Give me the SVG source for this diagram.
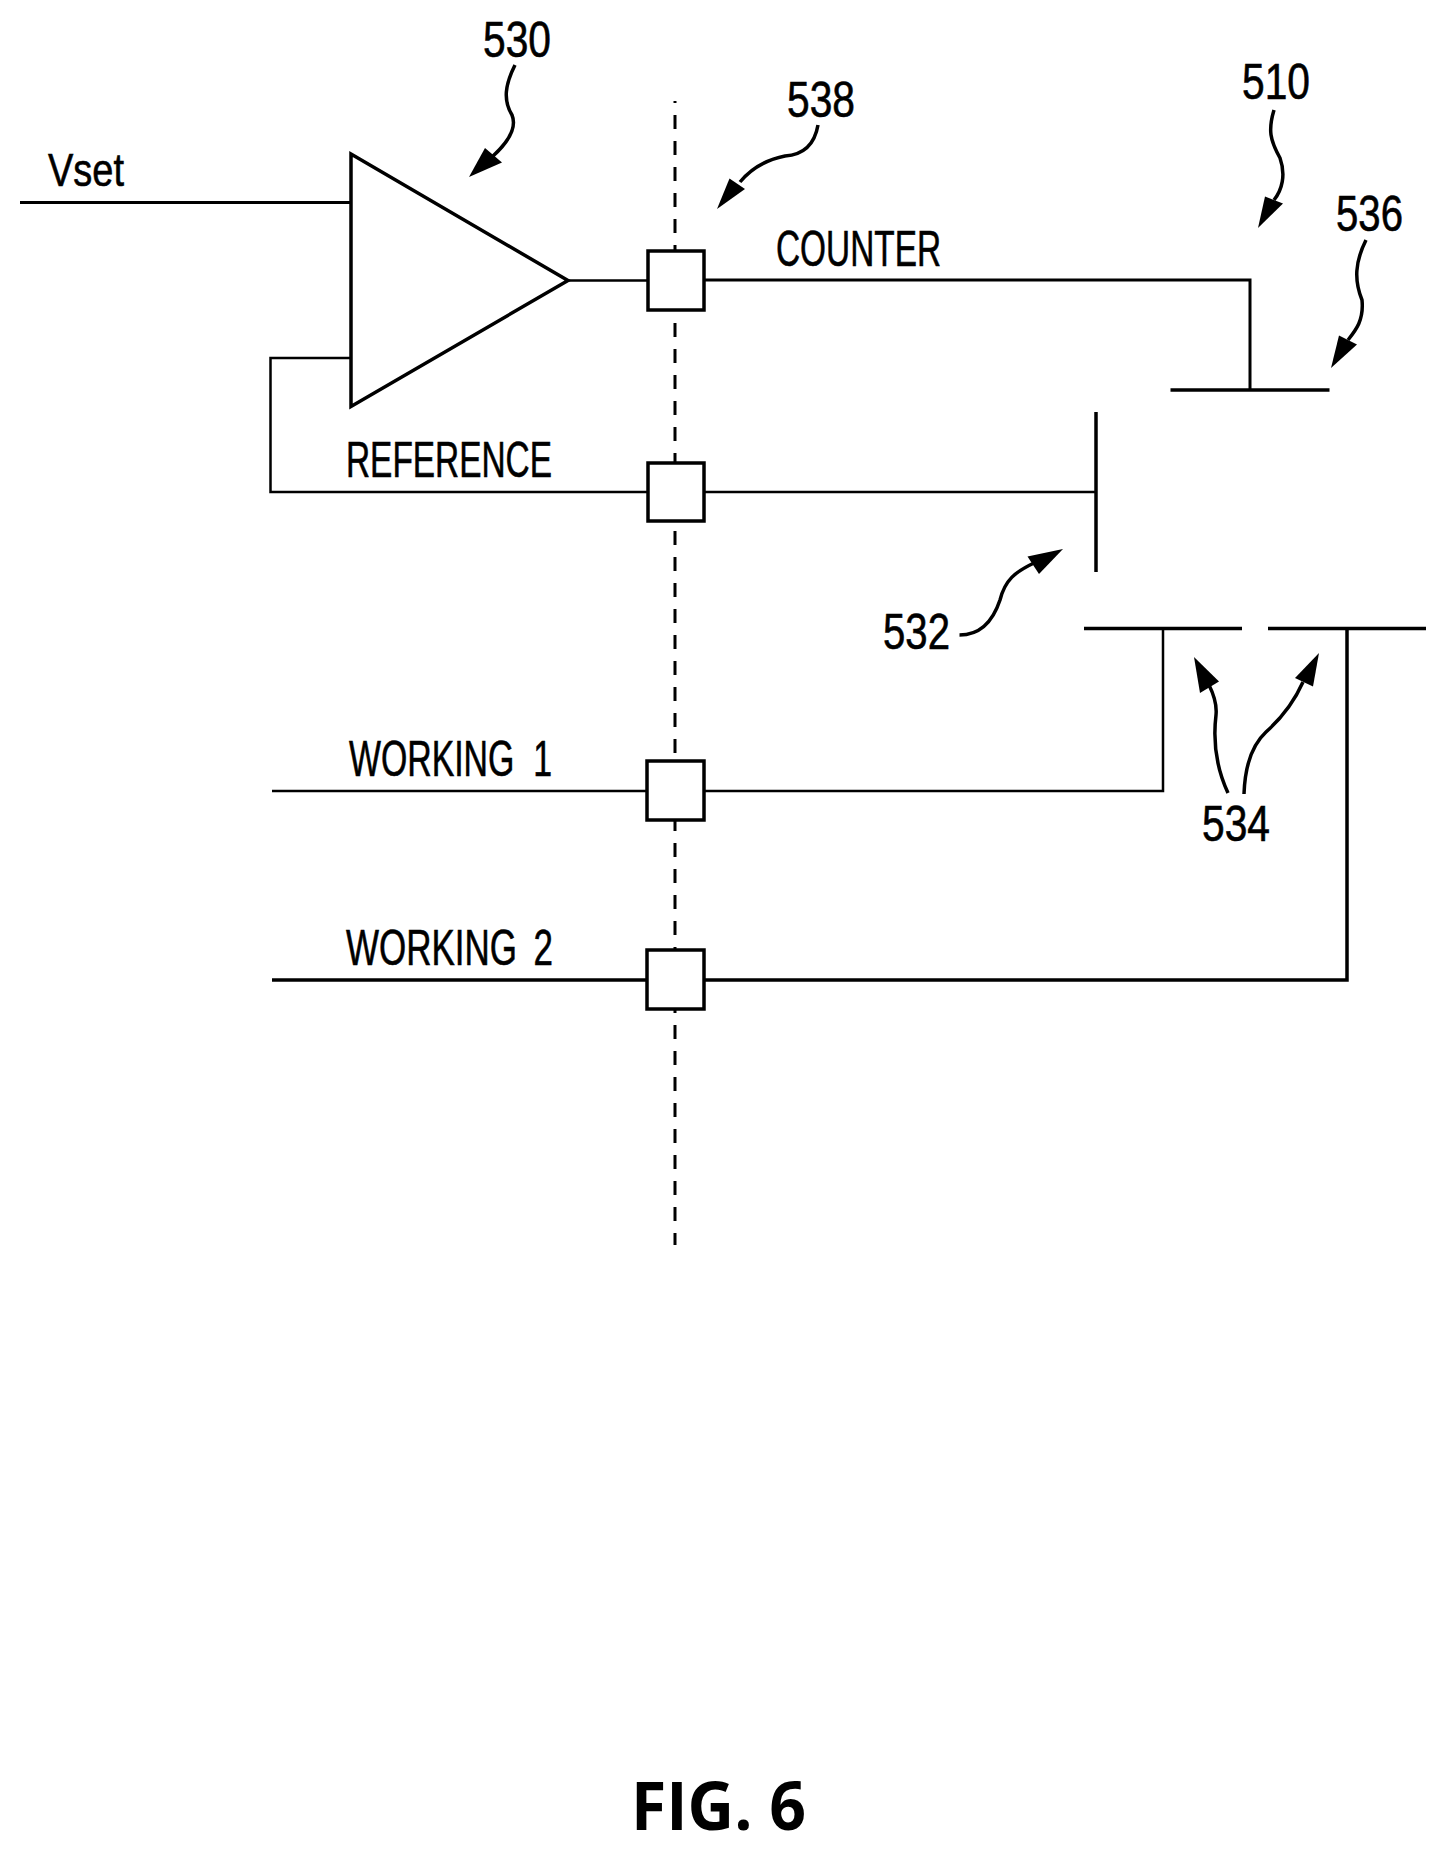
<svg xmlns="http://www.w3.org/2000/svg" width="1447" height="1851" viewBox="0 0 1447 1851">
<style>
.w{fill:none;stroke:#000;stroke-width:2.5;stroke-linecap:butt}
.t{fill:none;stroke:#000;stroke-width:3.5}
.amp{fill:#fff;stroke:#000;stroke-width:3.5}
.box{fill:#fff;stroke:#000;stroke-width:3.5}
.lead{fill:none;stroke:#000;stroke-width:3.5}
.head{fill:#000;stroke:none}
.lab{font-family:"Liberation Sans",Arial,sans-serif;fill:#000;font-size:50px;stroke:#000;stroke-width:.6px}
</style>
<rect width="1447" height="1851" fill="#fff"/>
<g id="connectors">
<path class="w" style="stroke-width:3" d="M675 101V1245" stroke-dasharray="14 12" stroke-dashoffset="12"/>
<path class="w" style="stroke-width:3" d="M20 202.500H351"/>
<path class="w" d="M568 280.500H647"/>
<path class="w" style="stroke-width:3" d="M704 280H1250V390"/>
<path class="w" d="M351 358H270.500V492H647"/>
<path class="w" d="M704 492H1096"/>
<path class="w" d="M272 791H647"/>
<path class="w" d="M704 791H1163V628"/>
<path class="w" style="stroke-width:3.500" d="M272 980H647"/>
<path class="w" style="stroke-width:3.500" d="M704 980H1347V628"/>
</g>
<g id="amplifier-530"><path class="amp" d="M351 154L568 280.500L351 406.500Z"/></g>
<g id="box-counter"><rect class="box" x="648" y="251" width="56" height="59"/></g>
<g id="box-reference"><rect class="box" x="648" y="463" width="56" height="58"/></g>
<g id="box-working1"><rect class="box" x="647" y="761" width="57" height="59"/></g>
<g id="box-working2"><rect class="box" x="647" y="950" width="57" height="59"/></g>
<g id="electrode-536"><path class="t" d="M1170.500 390H1329.500"/></g>
<g id="electrode-532"><path class="t" d="M1096 412V572"/></g>
<g id="electrode-534a"><path class="t" d="M1084 628.500H1242"/></g>
<g id="electrode-534b"><path class="t" d="M1268 628.500H1426"/></g>
<g id="label-vset"><text class="lab" x="48" y="186" style="font-size:46px" textLength="76" lengthAdjust="spacingAndGlyphs">Vset</text></g>
<g id="label-counter"><text class="lab" x="776" y="266" textLength="165" lengthAdjust="spacingAndGlyphs">COUNTER</text></g>
<g id="label-reference"><text class="lab" x="346" y="477" textLength="206" lengthAdjust="spacingAndGlyphs">REFERENCE</text></g>
<g id="label-working1"><text class="lab" x="349" y="776" textLength="203" lengthAdjust="spacingAndGlyphs" style="word-spacing:14px">WORKING 1</text></g>
<g id="label-working2"><text class="lab" x="346" y="965" textLength="207" lengthAdjust="spacingAndGlyphs" style="word-spacing:10px">WORKING 2</text></g>
<g id="ref-530"><text class="lab" x="483" y="57" textLength="68" lengthAdjust="spacingAndGlyphs">530</text>
<path class="lead" d="M515 65C505 85 503 100 512 115C518 130 505 145 493 156"/><path class="head" d="M469 177L485 148L502 162.500Z"/></g>
<g id="ref-538"><text class="lab" x="787" y="117" textLength="68" lengthAdjust="spacingAndGlyphs">538</text>
<path class="lead" d="M818 125C814 148 800 155 785 156C765 160 750 170 740 182"/><path class="head" d="M717 209L729.500 178.500L745 189Z"/></g>
<g id="ref-510"><text class="lab" x="1242" y="99" textLength="68" lengthAdjust="spacingAndGlyphs">510</text>
<path class="lead" d="M1274 110C1268 130 1270 140 1280 158C1286 175 1282 190 1274 200"/><path class="head" d="M1258 228L1265 196.500L1283 203.500Z"/></g>
<g id="ref-536"><text class="lab" x="1336" y="231" textLength="67" lengthAdjust="spacingAndGlyphs">536</text>
<path class="lead" d="M1366 240C1355 262 1354 280 1362 300C1364 320 1356 330 1348 340"/><path class="head" d="M1331 368L1339 335.500L1357 344.500Z"/></g>
<g id="ref-532"><text class="lab" x="883" y="649" textLength="67" lengthAdjust="spacingAndGlyphs">532</text>
<path class="lead" d="M959.500 635C985 635 995 615 1000 600C1005 580 1015 572 1034 563"/><path class="head" d="M1063 549L1027.500 556.500L1039 574Z"/></g>
<g id="ref-534"><text class="lab" x="1202" y="841" textLength="68" lengthAdjust="spacingAndGlyphs">534</text>
<path class="lead" d="M1228 793C1215 765 1213 740 1216 715C1217 705 1214 695 1209 685"/><path class="head" d="M1194 657L1200 693L1219 681.500Z"/>
<path class="lead" d="M1244 794C1245 765 1252 745 1266 732C1285 715 1295 700 1303 682"/><path class="head" d="M1319 653L1295 678L1313 686.500Z"/></g>
<g id="caption"><text x="631" y="1830" font-family="'Open Sans','Noto Sans',sans-serif" font-weight="700" font-size="66" textLength="175" lengthAdjust="spacingAndGlyphs">FIG. 6</text></g>
</svg>
